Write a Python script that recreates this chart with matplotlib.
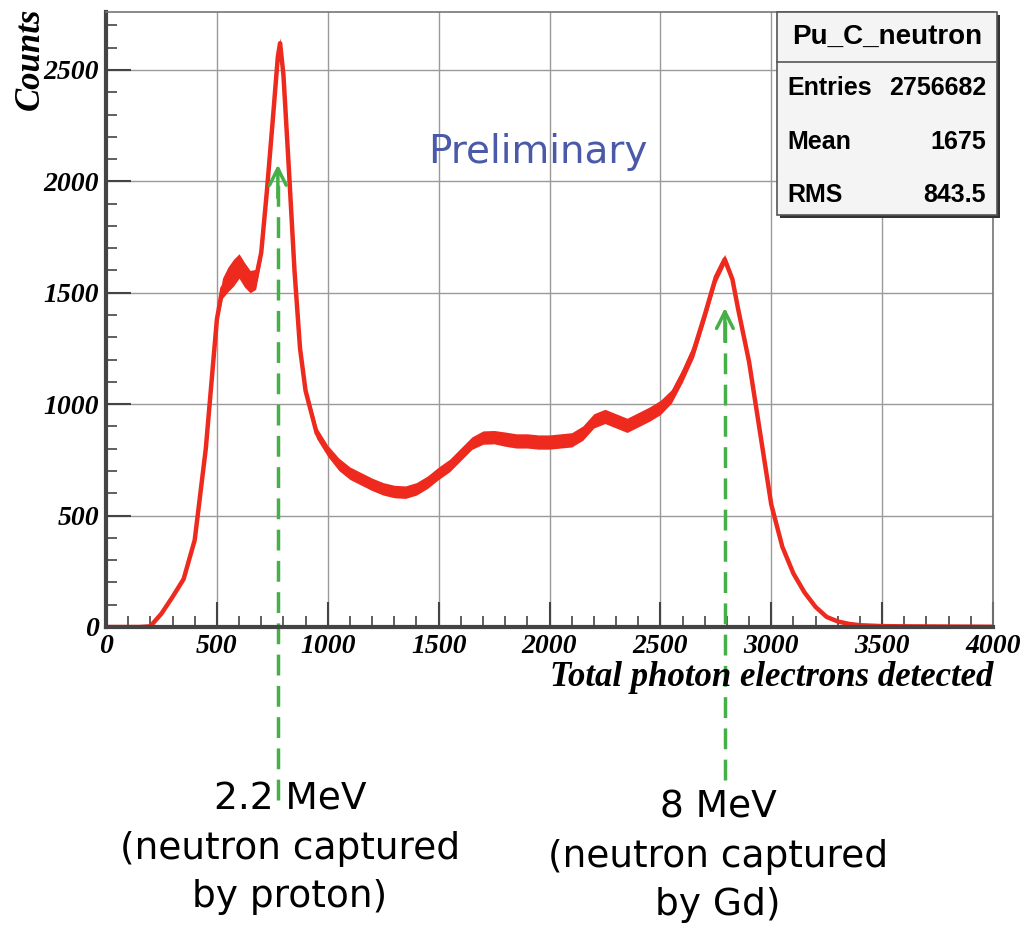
import numpy as np
import matplotlib.pyplot as plt
from matplotlib.patches import Rectangle
from matplotlib.ticker import MultipleLocator

# photo electron bins and counts
pe = [0, 100, 150, 200, 250, 300, 350, 400, 450, 500, 525, 550, 575, 600, 625,
      650, 675, 700, 725, 750, 775, 785, 800, 825, 850, 875, 900, 950, 1000,
      1050, 1100, 1150, 1200, 1250, 1300, 1350, 1400, 1450, 1500, 1550, 1600,
      1650, 1700, 1750, 1800, 1850, 1900, 1950, 2000, 2050, 2100, 2150, 2200,
      2250, 2300, 2350, 2400, 2450, 2500, 2550, 2600, 2650, 2700, 2750, 2790,
      2825, 2850, 2900, 2950, 3000, 3050, 3100, 3150, 3200, 3250, 3300, 3350,
      3400, 3500, 3600, 3800, 4000]
counts = [0, 0, 0, 3, 60, 135, 215, 390, 800, 1380, 1520, 1560, 1590, 1620, 1580,
          1550, 1560, 1680, 1950, 2250, 2560, 2620, 2480, 2050, 1600, 1250, 1060, 870, 790,
          730, 690, 665, 640, 620, 608, 605, 620, 650, 690, 725, 775,
          825, 850, 852, 843, 835, 835, 830, 830, 835, 840, 870, 925,
          945, 925, 905, 930, 955, 985, 1035, 1130, 1240, 1400, 1570, 1650,
          1560, 1430, 1190, 870, 550, 360, 240, 155, 90, 45, 25, 14,
          8, 4, 3, 2, 1]
# half width of the noisy band around the curve
noise = [0, 0, 0, 0, 5, 8, 8, 10, 10, 20, 45, 55, 60, 55, 55,
         50, 45, 30, 20, 20, 25, 25, 20, 20, 20, 20, 22, 25, 25,
         28, 28, 28, 28, 28, 28, 28, 28, 28, 28, 28, 28,
         28, 30, 30, 32, 32, 32, 32, 32, 32, 32, 32, 32,
         32, 32, 32, 32, 32, 32, 30, 30, 30, 28, 25, 22,
         18, 14, 10, 8, 6, 5, 4, 3, 2, 2, 2, 0,
         0, 0, 0, 0, 0]

pe = np.array(pe)
counts = np.array(counts)
noise = np.array(noise)

fig = plt.figure(figsize=(10.26, 9.35), dpi=100)
ax = fig.add_axes([106/1026, 1 - 627/935, 887/1026, 615/935])

red = '#ee2a1e'
ax.fill_between(pe, counts - noise, counts + noise, color=red, lw=0)
ax.plot(pe, counts, color=red, lw=3.2)

ax.set_xlim(0, 4000)
ax.set_ylim(0, 2760)
ax.xaxis.set_major_locator(MultipleLocator(500))
ax.xaxis.set_minor_locator(MultipleLocator(100))
ax.yaxis.set_major_locator(MultipleLocator(500))
ax.yaxis.set_minor_locator(MultipleLocator(100))
ax.grid(True, which='major', color='#9a9a9a', lw=1)
ax.set_axisbelow(True)
ax.tick_params(which='both', direction='in', top=False, right=False, color='#444')
ax.tick_params(which='major', length=18, width=1.5, pad=5)
ax.tick_params(which='minor', length=8, width=1.2)
for s in ['left', 'bottom']:
    ax.spines[s].set_linewidth(3)
    ax.spines[s].set_color('#444')
for s in ['top', 'right']:
    ax.spines[s].set_linewidth(1.2)
    ax.spines[s].set_color('#777')

tick_font = dict(family='Liberation Serif', weight='bold', style='italic', size=20)
for lab in ax.get_xticklabels() + ax.get_yticklabels():
    lab.set(**tick_font)

fig.text(993/1026, 1 - 678/935, 'Total photon electrons detected', ha='right', va='center',
         family='Liberation Serif', weight='bold', style='italic', size=25)
fig.text(30/1026, 1 - 8/935, 'Counts', ha='center', va='top', rotation=90,
         family='Liberation Serif', weight='bold', style='italic', size=25)

fig.text(538/1026, 1 - 152/935, 'Preliminary', ha='center', va='center',
         color='#4a5aa8', size=28, family='DejaVu Sans')

# stats box
bx0, bx1 = 777/1026, 997/1026
by0, by1 = 1 - 215/935, 1 - 12/935
fig.patches.append(Rectangle((bx0 + 3/1026, by0 - 3/935), bx1 - bx0, by1 - by0,
                             transform=fig.transFigure, facecolor='#333', edgecolor='none', zorder=5))
fig.patches.append(Rectangle((bx0, by0), bx1 - bx0, by1 - by0, transform=fig.transFigure,
                             facecolor='#f4f4f4', edgecolor='#555', lw=1.2, zorder=6))
fig.add_artist(plt.Line2D([bx0, bx1], [1 - 62/935] * 2, color='#555', lw=1.2, zorder=7))
box_font = dict(family='Liberation Sans', weight='bold', zorder=8)
fig.text((bx0 + bx1) / 2, 1 - 37/935, 'Pu_C_neutron', ha='center', va='center', size=20, **box_font)
rows = [('Entries', '2756682', 88), ('Mean', '1675', 142), ('RMS', '843.5', 195)]
for name, val, ypx in rows:
    fig.text(787/1026, 1 - ypx/935, name, ha='left', va='center', size=18, **box_font)
    fig.text(986/1026, 1 - ypx/935, val, ha='right', va='center', size=18, **box_font)

# green arrows marking the capture peaks: dashed shaft + solid open head
green = '#45b048'
for x0, ytip, ytail in [(775, 2075, -776), (2791, 1432, -687)]:
    ax.plot([x0, x0], [ytail, ytip - 20], color=green, lw=2.5, ls=(0, (6, 3)), clip_on=False)
    ax.annotate('', xy=(x0, ytip), xytext=(x0, ytip - 150), annotation_clip=False,
                arrowprops=dict(arrowstyle='->', color=green, lw=2.5, mutation_scale=30,
                                shrinkA=0, shrinkB=0))

ann_font = dict(size=27, family='DejaVu Sans', ha='center', va='top', linespacing=1.45)
fig.text(290/1026, 1 - 782/935, '2.2 MeV\n(neutron captured\nby proton)', **ann_font)
fig.text(718/1026, 1 - 790/935, '8 MeV\n(neutron captured\nby Gd)', **ann_font)

fig.savefig('out.png', dpi=100)
